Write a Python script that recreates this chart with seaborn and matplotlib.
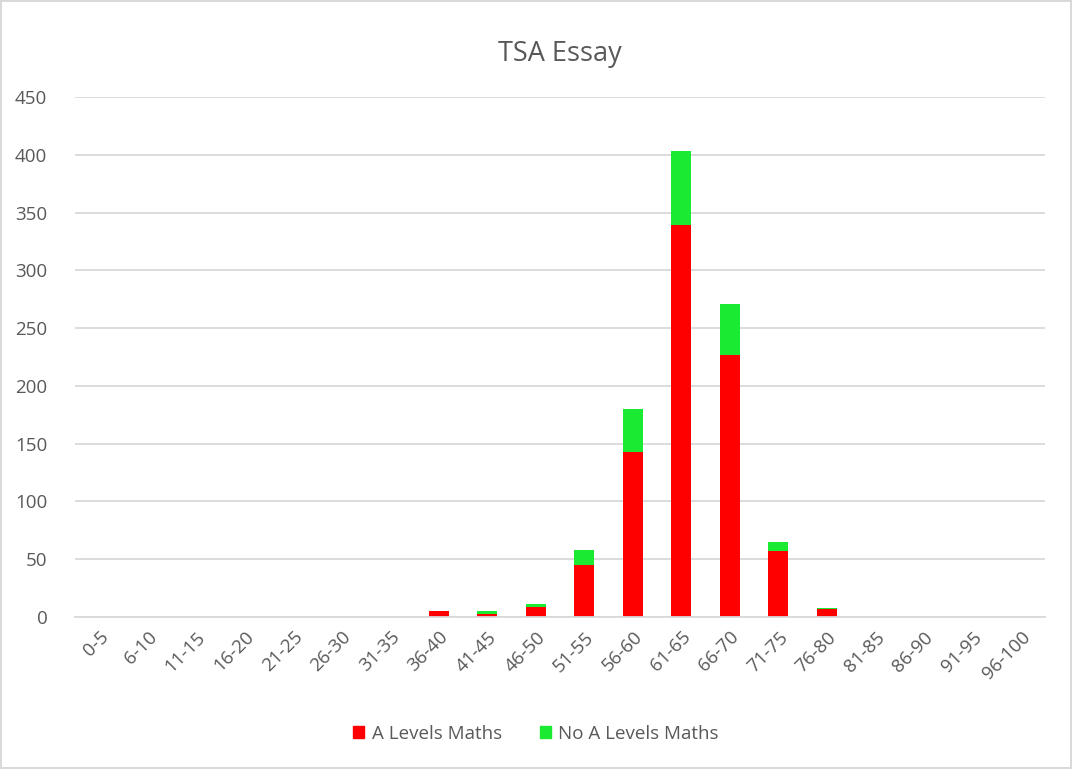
import matplotlib
matplotlib.use("Agg")
import matplotlib.pyplot as plt
import matplotlib.patches as mpatches
import pandas as pd
import seaborn as sns

categories = ['0-5', '6-10', '11-15', '16-20', '21-25', '26-30', '31-35', '36-40', '41-45',
              '46-50', '51-55', '56-60', '61-65', '66-70', '71-75', '76-80', '81-85',
              '86-90', '91-95', '96-100']
a_levels = [0, 0, 0, 0, 0, 0, 0, 5, 3, 9, 45, 143, 339, 227, 57, 7, 0, 0, 0, 0]
no_a_levels = [0, 0, 0, 0, 0, 0, 0, 0, 2, 2, 13, 37, 64, 44, 8, 1, 0, 0, 0, 0]
y_ticks = [0, 50, 100, 150, 200, 250, 300, 350, 400, 450]

df = pd.DataFrame({'range': categories, 'A Levels Maths': a_levels,
                   'No A Levels Maths': no_a_levels})
df['total'] = df['A Levels Maths'] + df['No A Levels Maths']

red = '#FF0000'
green = '#1AEB32'
grey_text = '#595959'

sns.set_theme(style='white')
plt.rcParams['font.family'] = ['Open Sans', 'DejaVu Sans']

fig = plt.figure(figsize=(10.72, 7.69), dpi=100)
fig.patch.set_edgecolor('#D9D9D9')
fig.patch.set_linewidth(1.5)
ax = fig.add_axes([0.07, 0.1977, 0.905, 0.6762])

# stacked: total in green, A levels in red on top of it
sns.barplot(data=df, x='range', y='total', color=green, width=0.41, saturation=1,
            ax=ax, order=categories, edgecolor='none')
sns.barplot(data=df, x='range', y='A Levels Maths', color=red, width=0.41, saturation=1,
            ax=ax, order=categories, edgecolor='none')

ax.set_ylim(0, 450)
ax.set_yticks(y_ticks)
ax.yaxis.grid(True, color='#D9D9D9', linewidth=1.3)
ax.set_axisbelow(True)
for s in ['top', 'right', 'left']:
    ax.spines[s].set_visible(False)
ax.spines['bottom'].set_color('#D9D9D9')
ax.spines['bottom'].set_linewidth(1.3)
ax.set_xlabel('')
ax.set_ylabel('')
ax.tick_params(axis='y', colors=grey_text, labelsize=13.5, length=0, pad=20)
ax.tick_params(axis='x', colors=grey_text, labelsize=13.5, length=0, pad=8)
plt.setp(ax.get_xticklabels(), rotation=45, ha='right', rotation_mode='anchor')

ax.set_title('TSA Essay', fontsize=19.5, color=grey_text, pad=26)

handles = [mpatches.Patch(color=red, label='A Levels Maths'),
           mpatches.Patch(color=green, label='No A Levels Maths')]
leg = fig.legend(handles=handles, loc='center', bbox_to_anchor=(0.5, 0.046), ncol=2,
                 frameon=False, fontsize=13.5, handlelength=0.6, handleheight=0.6,
                 handletextpad=0.4, columnspacing=2.0)
for t in leg.get_texts():
    t.set_color(grey_text)

fig.savefig('out.png', dpi=100)
